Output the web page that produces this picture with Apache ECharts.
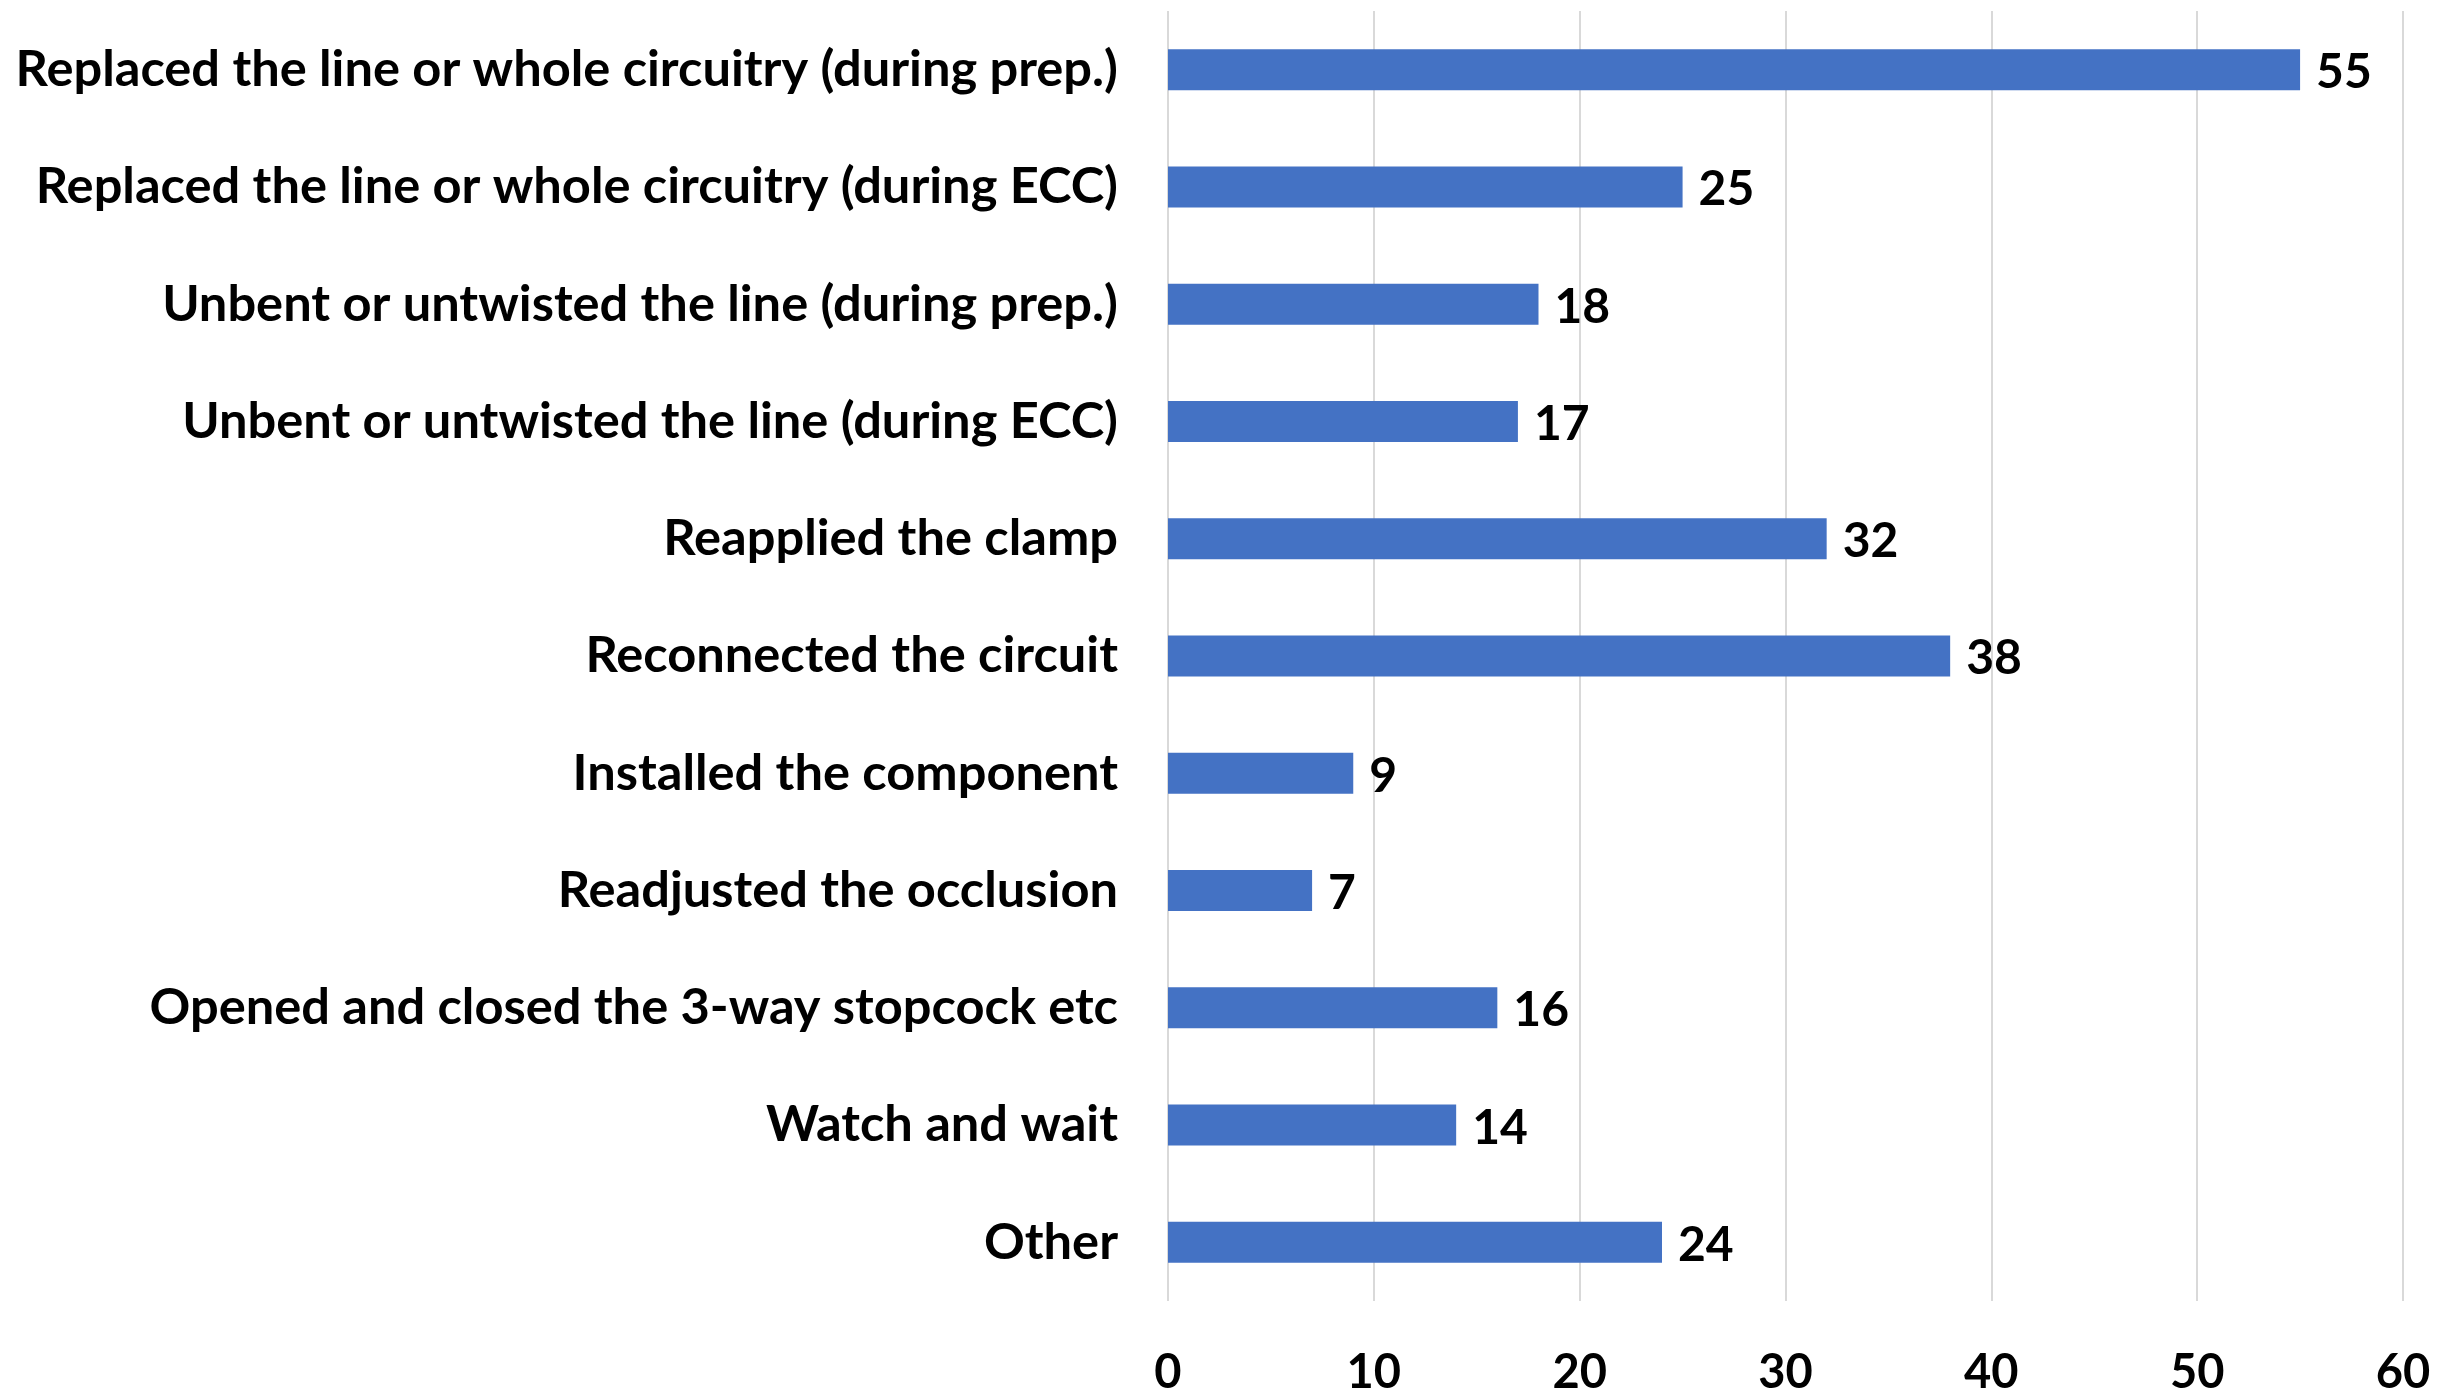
<!DOCTYPE html>
<html>
<head>
<meta charset="utf-8">
<script src="https://cdn.jsdelivr.net/npm/echarts@6/dist/echarts.min.js"></script>
<style>html,body{margin:0;padding:0;background:#fff;}#c{width:2464px;height:1392px;}</style>
</head>
<body>
<div id="c"></div>
<script>
const categories = [
  "Replaced the line or whole circuitry (during prep.)",
  "Replaced the line or whole circuitry (during ECC)",
  "Unbent or untwisted the line (during prep.)",
  "Unbent or untwisted the line (during ECC)",
  "Reapplied the clamp",
  "Reconnected the circuit",
  "Installed the component",
  "Readjusted the occlusion",
  "Opened and closed the 3-way stopcock etc",
  "Watch and wait",
  "Other"
];
const values = [55, 25, 18, 17, 32, 38, 9, 7, 16, 14, 24];
const xTicks = [0, 10, 20, 30, 40, 50, 60];

const chart = echarts.init(document.getElementById('c'));
chart.setOption({
  animation: false,
  backgroundColor: '#fff',
  grid: { left: 1168, right: 61, top: 11, bottom: 91, containLabel: false, outerBoundsMode: 'none' },
  xAxis: {
    type: 'value', min: xTicks[0], max: xTicks[xTicks.length - 1], interval: 10,
    axisLine: { show: false }, axisTick: { show: false },
    splitLine: { show: true, lineStyle: { color: '#d9d9d9', width: 2 } },
    axisLabel: { margin: 48, fontFamily: 'Lato', fontWeight: 'bold', fontSize: 47, color: '#000' }
  },
  yAxis: {
    type: 'category', data: categories, inverse: true,
    axisLine: { show: false }, axisTick: { show: false },
    axisLabel: { margin: 50, fontFamily: 'Lato', fontWeight: 'bold', fontSize: 50.6, color: '#000' }
  },
  series: [{
    type: 'bar', data: values, barWidth: 41,
    itemStyle: { color: '#4472C4' },
    label: { show: true, position: 'right', distance: 16, offset: [0, 3], fontFamily: 'Lato', fontWeight: 'bold', fontSize: 48, color: '#000' }
  }]
});
</script>
</body>
</html>
